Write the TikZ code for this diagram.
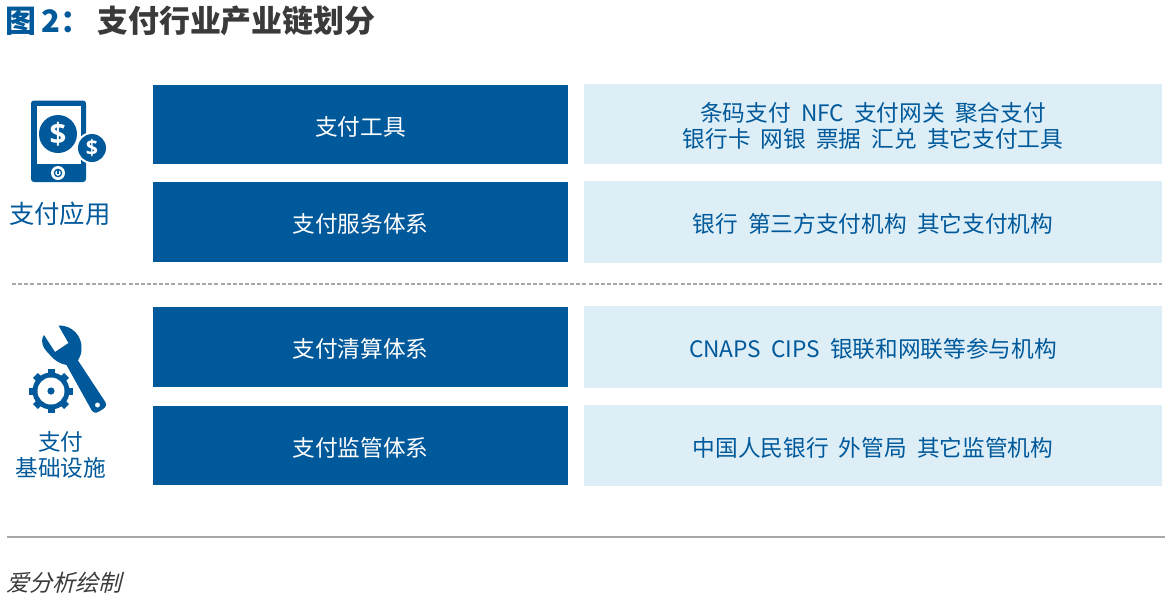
\documentclass[tikz,border=0pt]{standalone}
\usepackage{fontspec}
\setmainfont{Noto Sans CJK SC}
\newfontfamily\latinf{Open Sans}
\newfontfamily\slantf[FakeSlant=0.25]{Noto Sans CJK SC}
\definecolor{deepblue}{HTML}{00599B}
\definecolor{paleblue}{HTML}{DDEEF6}
\definecolor{darktext}{HTML}{3A3A3A}
\definecolor{ruleg}{HTML}{A8A8A8}
\tikzset{
  darkbox/.style={fill=deepblue,text=white,inner sep=0pt},
  palebox/.style={fill=paleblue,text=deepblue,inner sep=0pt},
  darklabel/.style={text=white,inner sep=0pt,yshift=-1.5pt,font=\fontsize{17}{20}\selectfont},
  palelabel/.style={text=deepblue,inner sep=0pt,align=center,yshift=-1.5pt,font=\fontsize{17}{20}\selectfont},
  sidelabel/.style={text=deepblue,inner sep=0pt,align=center,font=\fontsize{17}{20}\selectfont},
}
\newcommand{\rowbox}[6]{%
  \path[darkbox] (153,#2) rectangle (568,#3) node[midway,darklabel] (#1d) {#5};
  \path[palebox] (584,#2-1) rectangle (1162,#4) node[midway,palelabel] (#1p) {#6};
}
\begin{document}
\begin{tikzpicture}[x=0.75pt,y=-0.75pt]
\useasboundingbox (0,0) rectangle (1168,601);
\fill[white] (0,0) rectangle (1168,601);
% title
\node[anchor=west,inner sep=0pt,text=deepblue,font=\fontsize{23.2}{25}\selectfont\bfseries] (t1) at (5,21) {图\,2：};
\node[anchor=west,inner sep=0pt,text=darktext,font=\fontsize{23.2}{25}\selectfont\bfseries] (t2) at (97,21) {支付行业产业链划分};
% rows
\rowbox{a}{85}{164}{164}{支付工具}{条码支付\ \ NFC\ \ 支付网关\ \ 聚合支付\\银行卡\ \ 网银\ \ 票据\ \ 汇兑\ \ 其它支付工具}
\rowbox{b}{182}{262}{263}{支付服务体系}{银行\ \ 第三方支付机构\ \ 其它支付机构}
\rowbox{c}{307}{387}{388}{支付清算体系}{CNAPS\ \ CIPS\ \ 银联和网联等参与机构}
\rowbox{d}{406}{485}{486}{支付监管体系}{中国人民银行\ \ 外管局\ \ 其它监管机构}
% separators
\draw[ruleg,line width=0.9pt,dash pattern=on 3pt off 1.6pt] (12,284) -- (1162,284);
\draw[ruleg,line width=0.9pt] (7,537) -- (1165,537);
% side labels
\node[sidelabel,font=\fontsize{19}{22}\selectfont] (s1) at (60,214) {支付应用};
\node[sidelabel] (s2) at (61,455) {支付\\基础设施};
\node[anchor=west,inner sep=0pt,text=darktext,font=\fontsize{17.3}{20}\selectfont\slantf] (src) at (6,583) {爱分析绘制};
% tablet icon
\fill[deepblue,rounded corners=2.2pt] (31,100.5) rectangle (86,182);
\fill[white] (37,106) rectangle (81,164);
\fill[deepblue] (58,134) circle[radius=19];
\fill[white] (92,148) circle[radius=16];
\fill[deepblue] (92,148) circle[radius=14];
\fill[white] (58,173) circle[radius=7];
\draw[deepblue,line width=1pt] (58,173) circle[radius=3.6];
\draw[deepblue,line width=1pt] (58,169.5) -- (58,173.5);
\node[text=white,inner sep=0pt,font=\fontsize{22}{22}\selectfont\latinf\bfseries] (d1) at (58,134) {\$};
\node[text=white,inner sep=0pt,font=\fontsize{16}{16}\selectfont\latinf\bfseries] (d2) at (92,148) {\$};
% wrench
\fill[deepblue,even odd rule]
  (58.5,325.5) .. controls (72,325) and (82,336) .. (81.5,348)
  .. controls (81.5,354) and (80,357) .. (78,360.5)
  -- (105,401.5) .. controls (107,404.5) and (106,407) .. (103,409)
  -- (99,411.5) .. controls (96,413.5) and (93.5,413) .. (91.5,410)
  -- (66.5,365) .. controls (60,364) and (54,360) .. (50,355)
  .. controls (43,348) and (39.5,342) .. (44,335)
  -- (55,352) -- (68.5,343) -- cycle
  (97.5,405) circle[radius=2.6];
% gear
\fill[deepblue] (51,391) circle[radius=18.5];
\foreach \a in {0,45,...,315}{
  \fill[deepblue,rotate around={\a:(51,391)}] (47.5,369) rectangle (54.5,376);
}
\fill[white] (51,391) circle[radius=13.5];
\fill[deepblue] (51,391) circle[radius=3.6];
\end{tikzpicture}
\end{document}
